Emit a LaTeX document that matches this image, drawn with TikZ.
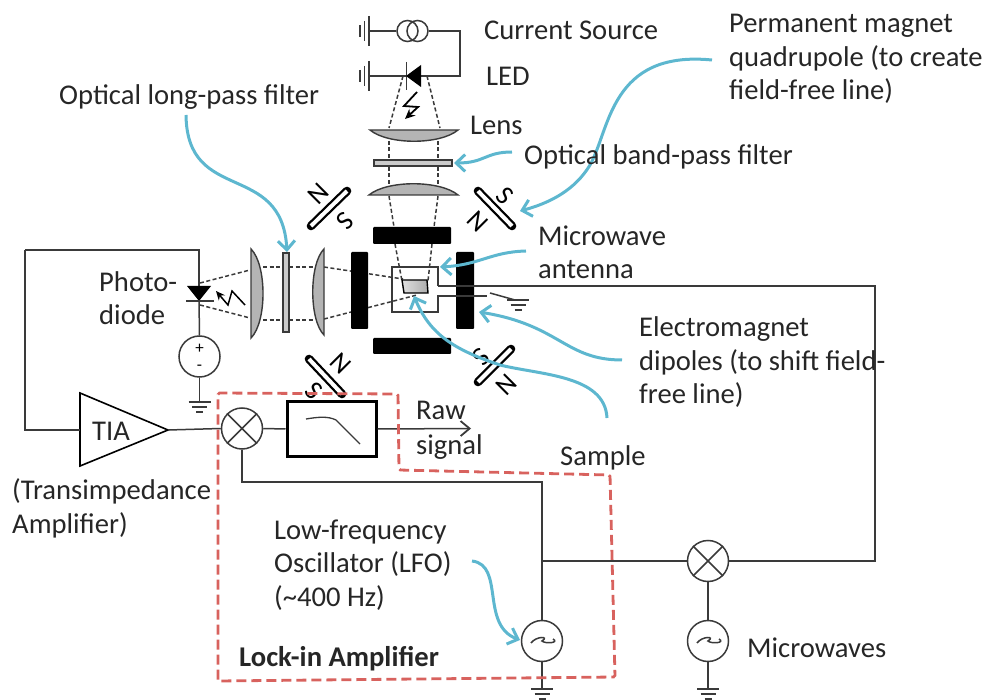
\documentclass[tikz,border=0pt]{standalone}
\usepackage{fontspec}
\setmainfont{Carlito}
\usetikzlibrary{arrows.meta,shapes.geometric,calc}
\definecolor{wirec}{HTML}{3A3A3A}
\definecolor{bluec}{HTML}{5DB7CF}
\definecolor{redc}{HTML}{D8625E}
\definecolor{glass}{HTML}{B4B4B4}
\newcommand{\magnetbar}[2]{\draw[black,line width=8.6pt,line cap=round] #1--#2;\draw[white,line width=4pt] #1--#2;}
\tikzset{
  wire/.style={draw=wirec,line width=1.5pt},
  beam/.style={draw=wirec,line width=1.5pt,dash pattern=on 4pt off 2.5pt},
  lbl/.style={anchor=base west,inner sep=0pt,yshift=-1pt,font=\fontsize{28.6}{30}\selectfont,text=black!85},
  pole/.style={inner sep=0pt,font=\fontsize{27}{27}\selectfont,text=black},
  ring/.style={circle,draw=wirec,line width=1.5pt,minimum size=41pt,inner sep=0pt,fill=white},
  bar/.style={fill=black,rounded corners=1pt},
  lensf/.style={draw=wirec,line width=1.4pt,fill=glass},
  note/.style={draw=bluec,line width=3pt,-{Straight Barb[length=9pt,width=17pt,line width=3pt]}},
  gndh/.pic={\draw[wire] (-11,0)--(11,0) (-7.5,5)--(7.5,5) (-3.5,10)--(3.5,10);},
  gndv/.pic={\draw[wire] (0,-15)--(0,15) (-4.5,-10)--(-4.5,10) (-9,-6)--(-9,6);},
  bolt/.style={draw=black,line width=1.8pt,-{Stealth[length=10pt,width=9pt]}}
}
\begin{document}
\begin{tikzpicture}[x=1pt,y=-1pt]
\useasboundingbox (0,0) rectangle (988,700);
% ---------- source and LED
\coordinate (g1) at (369,31);
\coordinate (g2) at (369,76);
\pic at (369,31) {gndv};
\pic at (369,76) {gndv};
\node[ring,minimum size=21pt] (cs1) at (407.5,31) {};
\node[circle,draw=wirec,line width=1.5pt,minimum size=21pt,inner sep=0pt] (cs2) at (417.5,31) {};
\coordinate (ledR) at (421,76);
\coordinate (ledL) at (406,76);
\coordinate (c1) at (460,31);
\draw[wire] (g1)--(cs1.west);
\draw[wire] (cs2.east)--(c1)|-(ledR);
\draw[wire] (g2)--(ledL);
\draw[draw=wirec,line width=1.5pt] (406.5,62)--(406.5,90);
\fill[black] (406,76)--(421,65)--(421,87)--cycle;
\draw[bolt] (417,92)--(404,106)--(418,107)--(405,119);
% ---------- vertical optics
\draw[beam] (403,76)--(389,128);
\draw[beam] (427,76)--(440,128);
\draw[beam] (389,141)--(389,184);
\draw[beam] (438,141)--(438,184);
\draw[beam] (389,196)--(394,227);
\draw[beam] (438,196)--(434,227);
\draw[beam] (395,244)--(402,281);
\draw[beam] (432,244)--(428,281);
\draw[lensf] (370,130)--(458,130) .. controls (440,145) and (388,145) .. (370,130)--cycle;
\draw[lensf,fill=glass!70] (374,160) rectangle (452,166);
\draw[lensf] (369,195)--(458,195) .. controls (440,180) and (387,180) .. (369,195)--cycle;
% ---------- horizontal optics
\draw[beam] (200,283)--(250,270);
\draw[beam] (200,305)--(250,318);
\draw[beam] (263,267)--(313,267);
\draw[beam] (263,320)--(313,320);
\draw[beam] (324,267)--(403,279);
\draw[beam] (324,319)--(417,295);
\draw[lensf] (251,249)--(251,338) .. controls (267,322) and (267,265) .. (251,249)--cycle;
\draw[lensf,fill=glass!70] (283,253) rectangle (289,332);
\draw[lensf] (324,249)--(324,335) .. controls (309,320) and (309,264) .. (324,249)--cycle;
% ---------- poles of the electromagnet
\fill[bar] (373,227) rectangle (451,244);
\fill[bar] (373,338) rectangle (451,354);
\fill[bar] (351,252) rectangle (368,329);
\fill[bar] (456,252) rectangle (474,329);
% ---------- quadrupole magnets
\magnetbar{(311,226)}{(347,191)}
\magnetbar{(478,191)}{(512,226)}
\magnetbar{(309,359)}{(342,394)}
\magnetbar{(511,349)}{(478,382)}
\node[pole,rotate=-135] (n1) at (318,194) {N};
\node[pole,rotate=-135] (s1) at (345,221) {S};
\node[pole,rotate=-45] (s2) at (505,196) {S};
\node[pole,rotate=-45] (n2) at (478,222) {N};
\node[pole,rotate=-45] (n3) at (341,364) {N};
\node[pole,rotate=-45] (s3) at (314,391) {S};
\node[pole,rotate=-135] (s4) at (481,357) {S};
\node[pole,rotate=-135] (n4) at (506,385) {N};
% ---------- antenna and sample
\coordinate (anA) at (392,267);
\coordinate (anB) at (438,267);
\coordinate (anC) at (438,286);
\coordinate (anD) at (438,296);
\coordinate (anE) at (438,312);
\coordinate (anF) at (392,312);
\coordinate (feed) at (875,286);
\draw[wire] (anC)--(anB)--(anA)--(anF)--(anE)--(anD)--(487,296);
\draw[wire] (490,293)--(515,300);
\pic at (518,300) {gndh};
\shade[left color=gray!25,right color=gray!65,draw=black,line width=1.4pt] (402,280)--(427,280)--(428,293)--(404,293)--cycle;
% ---------- photodiode
\coordinate (pdTop) at (199,286);
\coordinate (pdBot) at (199,301);
\coordinate (tiaC) at (25,250);
\node[ring] (vs) at (199.5,356.5) {};
\node[inner sep=0pt,font=\fontsize{17}{17}\selectfont] (vp) at (199.5,349) {+};
\node[inner sep=0pt,font=\fontsize{17}{17}\selectfont] (vm) at (199.5,368) {-};
\coordinate (gv) at (199.5,402);
\draw[wire] (pdBot)--(vs.north);
\draw[wire] (vs.south)--(gv);
\pic at (gv) {gndh};
\draw[wire] (pdTop)--(199,250)--(tiaC);
\fill[black] (187,286)--(211,286)--(199,301)--cycle;
\draw[draw=wirec,line width=1.5pt] (186,301)--(214,301);
\draw[draw=black,line width=1.5pt,-{Stealth[length=9pt,width=8pt]}] (245,305)--(232,291)--(228,305)--(216,291);
% ---------- lock-in chain
\coordinate (tiaA) at (80,393);
\coordinate (tiaB) at (80,466);
\coordinate (tiaOut) at (168,430);
\coordinate (tiaMid) at (80,430);
\draw[draw=black,line width=1.6pt] (tiaA)--(tiaOut)--(tiaB)--cycle;
\node[inner sep=0pt,font=\fontsize{28.6}{30}\selectfont,text=black!85] (tiat) at (111,431) {TIA};
\node[ring] (mx1) at (242,428.5) {};
\node[draw=black,line width=3pt,minimum width=89pt,minimum height=54pt,inner sep=0pt] (lpf) at (331.5,429) {};
\draw[wire] (mx1.45)--(mx1.225) (mx1.135)--(mx1.315);
\draw[draw=wirec,line width=1.3pt] (306,419) .. controls (318,417) and (328,416) .. (336,420) -- (342,426) -- (360,444);
\coordinate (rawEnd) at (471,428.5);
\coordinate (lock) at (242,482);
\coordinate (jn) at (542,561);
\coordinate (tiaIn) at (25,430);
\draw[wire] (tiaC)--(tiaIn)--(tiaMid);
\draw[wire] (tiaOut)--(mx1.west);
\draw[wire] (mx1.east)--(lpf.west);
\draw[wire,-{Straight Barb[length=9pt,width=15pt,line width=1.8pt]}] (lpf.east)--(rawEnd);
\node[ring] (lfo) at (542,641) {};
\node[ring] (mx2) at (708,561) {};
\node[ring] (mw) at (708,641) {};
\draw[wire] (mx2.45)--(mx2.225) (mx2.135)--(mx2.315);
\draw[wire] (lfo.center)++(-11,2) .. controls +(5,-7) and +(8,-5) .. ++(11,-2) .. controls +(3,3) and +(7,4) .. ++(11,-2);
\draw[wire] (mw.center)++(-11,2) .. controls +(5,-7) and +(8,-5) .. ++(11,-2) .. controls +(3,3) and +(7,4) .. ++(11,-2);
\draw[wire] (mx1.south)--(lock)-|(jn);
\draw[wire] (jn)--(lfo.north);
\draw[wire] (jn)--(mx2.west);
\draw[wire] (mx2.east)-|(feed)--(anC);
\draw[wire] (mx2.south)--(mw.north);
\coordinate (g3) at (542,689);
\coordinate (g4) at (708,689);
\draw[wire] (lfo.south)--(g3);
\draw[wire] (mw.south)--(g4);
\pic at (g3) {gndh};
\pic at (g4) {gndh};
% ---------- lock-in outline
\draw[draw=redc,line width=2.8pt,dash pattern=on 10pt off 5pt,rounded corners=1.5pt] (218,681)--(218,393)--(398,394)--(399,470)--(610,475)--(615,677)--cycle;
% ---------- notes
\coordinate (t1) at (287,252);
\coordinate (t2) at (454,163);
\coordinate (t3) at (520,211);
\coordinate (t4) at (440,267);
\coordinate (t5) at (479,312);
\coordinate (t6) at (414,296);
\coordinate (t7) at (520,640);
\draw[note] (186,115) .. controls (187,205) and (282,160) .. (t1);
\draw[note] (512,152) .. controls (485,152) and (485,163) .. (t2);
\draw[note] (712,60) .. controls (610,50) and (610,130) .. (590,165) .. controls (575,190) and (550,203) .. (t3);
\draw[note] (526,251) .. controls (490,252) and (480,265) .. (t4);
\draw[note] (622,360) .. controls (565,360) and (560,325) .. (t5);
\draw[note] (607,418) .. controls (605,375) and (540,375) .. (500,365) .. controls (455,350) and (430,335) .. (t6);
\draw[note] (472,561) .. controls (505,565) and (480,625) .. (t7);
% ---------- labels
\node[lbl] (lcs) at (484,39) {Current Source};
\node[lbl] (lled) at (486,85) {LED};
\node[lbl] (lpm1) at (729,32) {Permanent magnet};
\node[lbl] (lpm2) at (729,66) {quadrupole (to create};
\node[lbl] (lpm3) at (729,99) {field-free line)};
\node[lbl] (lolp) at (59,104) {Optical long-pass filter};
\node[lbl] (llens) at (470,134) {Lens};
\node[lbl] (lbp) at (524,164) {Optical band-pass filter};
\node[lbl] (lma1) at (538,245) {Microwave};
\node[lbl] (lma2) at (538,278) {antenna};
\node[lbl] (lpd1) at (99,291) {Photo-};
\node[lbl] (lpd2) at (99,324) {diode};
\node[lbl] (lem1) at (639,336) {Electromagnet};
\node[lbl] (lem2) at (639,370) {dipoles (to shift field-};
\node[lbl] (lem3) at (639,403) {free line)};
\node[lbl] (lraw1) at (416,419) {Raw};
\node[lbl] (lraw2) at (416,453) {signal};
\node[lbl] (lsam) at (560,464) {Sample};
\node[lbl] (ltia1) at (12,498) {(Transimpedance};
\node[lbl] (ltia2) at (12,532) {Amplifier)};
\node[lbl] (llfo1) at (274,538) {Low-frequency};
\node[lbl] (llfo2) at (274,571) {Oscillator (LFO)};
\node[lbl] (llfo3) at (274,605) {(\textasciitilde 400 Hz)};
\node[lbl,font=\fontsize{28.6}{30}\selectfont\bfseries] (llia) at (239,665) {Lock-in Amplifier};
\node[lbl] (lmw) at (747,656) {Microwaves};
\end{tikzpicture}
\end{document}
